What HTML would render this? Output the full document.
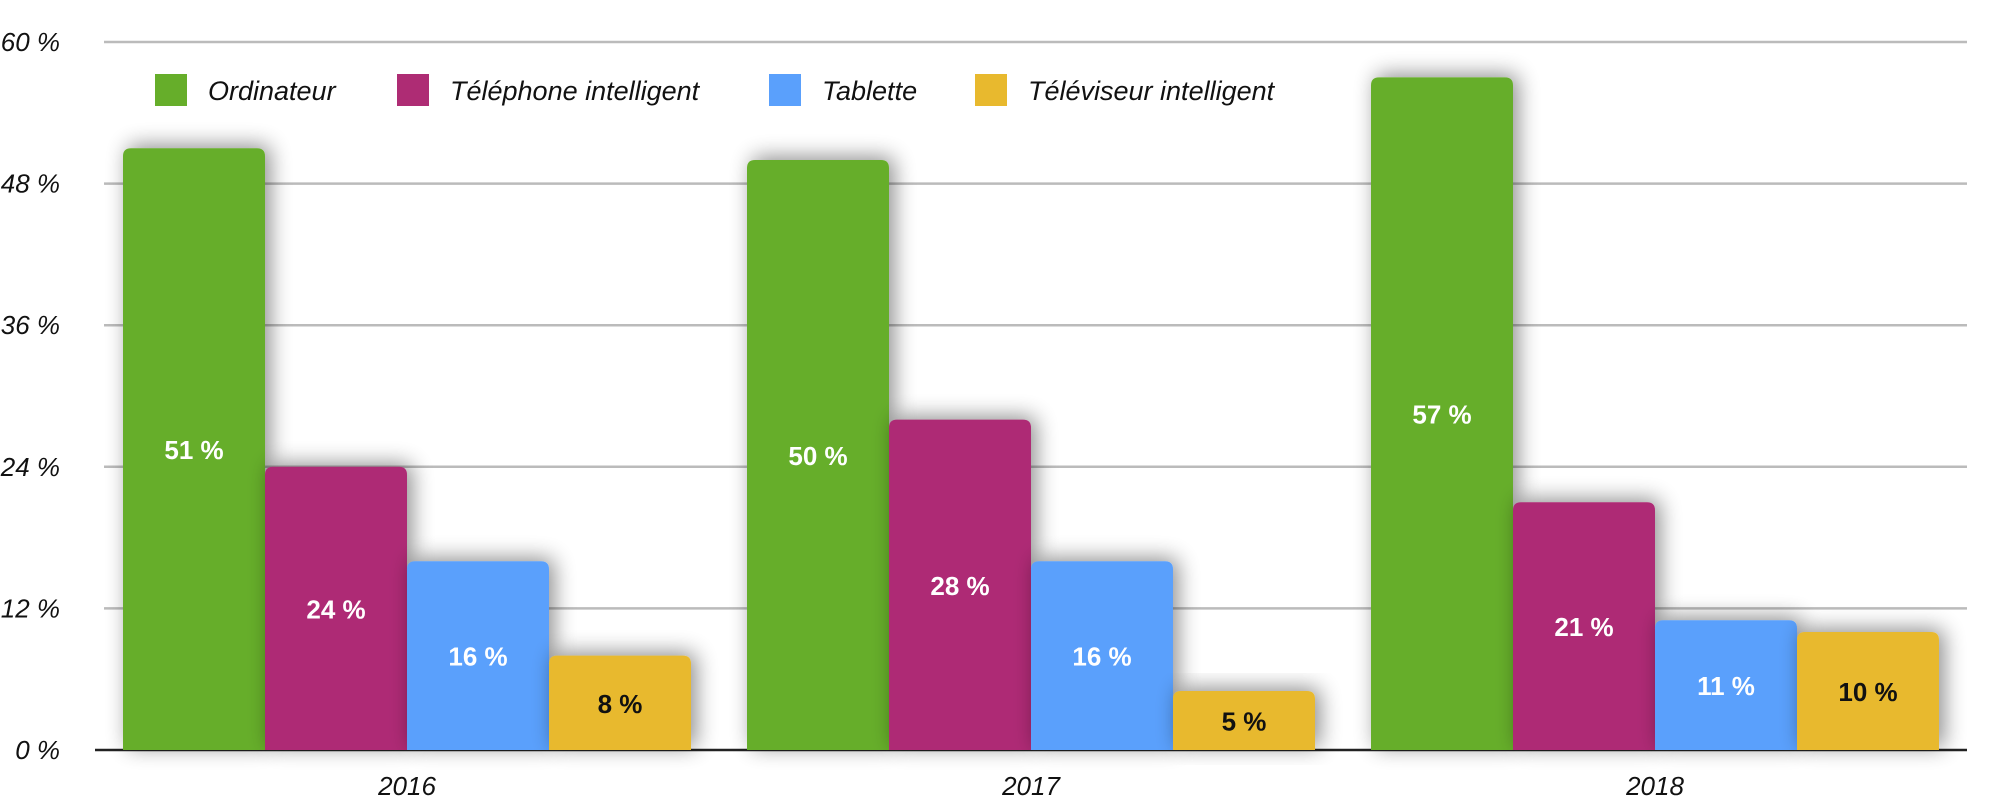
<!DOCTYPE html>
<html><head><meta charset="utf-8"><style>
body{margin:0;background:#fff;}
svg text{font-family:"Liberation Sans",sans-serif;}
</style></head><body>
<svg width="1990" height="805" xmlns="http://www.w3.org/2000/svg">
<defs><filter id="sh" x="-30%" y="-30%" width="160%" height="160%"><feGaussianBlur in="SourceAlpha" stdDeviation="11"/><feOffset dx="5" dy="-3"/><feComponentTransfer><feFuncA type="linear" slope="0.45"/></feComponentTransfer><feMerge><feMergeNode/><feMergeNode in="SourceGraphic"/></feMerge></filter></defs>
<g id="grid"></g><g id="bars"></g><g id="labels"></g><g id="legend"></g>
</svg>
<script>
const categories=["2016","2017","2018"];
const seriesNames=["Ordinateur","Téléphone intelligent","Tablette","Téléviseur intelligent"];
const ordinateur=[51,50,57];
const telephone=[24,28,21];
const tablette=[16,16,11];
const televiseur=[8,5,10];
const yTicks=[0,12,24,36,48,60];
const colors=["#66ae2a","#ae2c74","#5aa0fc","#e8b92e"];
const ns="http://www.w3.org/2000/svg";
const X0=95,X1=1967,Y0=750,Y1=42,YMAX=60;
const y=v=>Y0-(v/YMAX)*(Y0-Y1);
const catW=(X1-X0)/categories.length;
const barW=142;
function mk(t,a,p){const e=document.createElementNS(ns,t);for(const k in a)e.setAttribute(k,a[k]);p.appendChild(e);return e;}
const grid=document.getElementById('grid'),bars=document.getElementById('bars'),labels=document.getElementById('labels'),legend=document.getElementById('legend');
yTicks.forEach(t=>{
 if(t>0){const l=mk('line',{x1:X0+9,x2:X1,y1:y(t),y2:y(t),stroke:'#bbb','stroke-width':2.5},grid);
 
 }
 const tx=mk('text',{x:60,y:y(t)+9,'text-anchor':'end','font-size':26,'font-style':'italic',fill:'#111'},grid);
 tx.textContent=t+' %';
 
 
});
const ax=mk('line',{x1:X0,x2:X1,y1:Y0,y2:Y0,stroke:'#222','stroke-width':2.5},grid);


const series=[ordinateur,telephone,tablette,televiseur];
categories.forEach((c,i)=>{
 const cx=X0+catW*(i+0.5);
 const start=cx-barW*2;
 series.forEach((s,j)=>{
  const v=s[i],bx=start+j*barW,by=y(v),h=Y0-by;
  const r=8;
  const p=mk('path',{d:`M${bx},${Y0}V${by+r}Q${bx},${by} ${bx+r},${by}H${bx+barW-r}Q${bx+barW},${by} ${bx+barW},${by+r}V${Y0}Z`,fill:colors[j],filter:'url(#sh)'},bars);
  
  
  const t=mk('text',{x:bx+barW/2,y:by+h/2+10,'text-anchor':'middle','font-size':26,'font-weight':'bold',fill:j==3?'#111':'#fff'},labels);
  t.textContent=v+' %';
  
  
 });
 const ct=mk('text',{x:cx,y:795,'text-anchor':'middle','font-size':26,'font-style':'italic',fill:'#111'},labels);
 ct.textContent=c;
 
 
});
const lx=[155,397,769,975];
seriesNames.forEach((n,j)=>{
 const g=mk('g',{},legend);
 
 
 mk('rect',{x:lx[j],y:74,width:32,height:32,fill:colors[j]},g);
 const t=mk('text',{x:lx[j]+53,y:100,'font-size':27,'font-style':'italic',fill:'#111'},g);
 t.textContent=n;
});
</script>
</body></html>
